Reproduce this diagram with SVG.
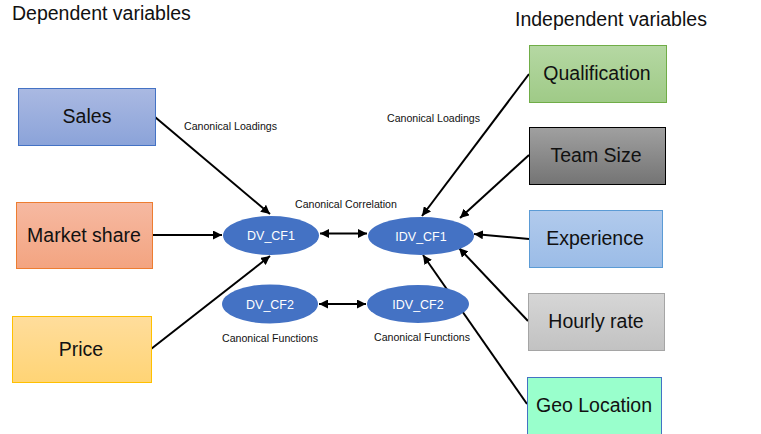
<svg xmlns="http://www.w3.org/2000/svg" width="761" height="434" viewBox="0 0 761 434">
<defs>
<linearGradient id="gSales" x1="0" y1="0" x2="0" y2="1"><stop offset="0" stop-color="#aab9e2"/><stop offset="1" stop-color="#8ba3d9"/></linearGradient>
<linearGradient id="gMkt" x1="0" y1="0" x2="0" y2="1"><stop offset="0" stop-color="#f6b9a2"/><stop offset="1" stop-color="#f3a480"/></linearGradient>
<linearGradient id="gPrice" x1="0" y1="0" x2="0" y2="1"><stop offset="0" stop-color="#ffdd9c"/><stop offset="1" stop-color="#ffd475"/></linearGradient>
<linearGradient id="gQual" x1="0" y1="0" x2="0" y2="1"><stop offset="0" stop-color="#b5d8a3"/><stop offset="1" stop-color="#9fca87"/></linearGradient>
<linearGradient id="gTeam" x1="0" y1="0" x2="0" y2="1"><stop offset="0" stop-color="#a0a0a0"/><stop offset="1" stop-color="#747474"/></linearGradient>
<linearGradient id="gExp" x1="0" y1="0" x2="0" y2="1"><stop offset="0" stop-color="#b1caec"/><stop offset="1" stop-color="#9bbce7"/></linearGradient>
<linearGradient id="gHour" x1="0" y1="0" x2="0" y2="1"><stop offset="0" stop-color="#d6d6d6"/><stop offset="1" stop-color="#c2c2c2"/></linearGradient>
<marker id="ah" viewBox="0 0 10 10" refX="10" refY="5" markerWidth="4.5" markerHeight="4.5" orient="auto-start-reverse" markerUnits="strokeWidth"><path d="M0,0 L10,5 L0,10 z" fill="#000"/></marker>
</defs>
<style>
.box text{font-family:"Liberation Sans",Arial,sans-serif;font-size:19.5px;fill:#111;text-anchor:middle}
.ell ellipse{fill:#4472c4}
.ell text{font-family:"Liberation Sans",Arial,sans-serif;font-size:12.5px;fill:#fff;text-anchor:middle}
.lbl{font-family:"Liberation Sans",Arial,sans-serif;font-size:10.6px;fill:#111}
.hdr{font-family:"Liberation Sans",Arial,sans-serif;font-size:19.5px;fill:#111}
#connectors line{stroke:#000;stroke-width:2;fill:none}
</style>
<rect width="761" height="434" fill="#fff"/>
<text class="hdr" x="12" y="20">Dependent variables</text>
<text class="hdr" x="515" y="26">Independent variables</text>
<text class="lbl" x="184" y="130">Canonical Loadings</text>
<text class="lbl" x="387" y="122">Canonical Loadings</text>
<text class="lbl" x="295" y="208">Canonical Correlation</text>
<text class="lbl" x="222" y="342">Canonical Functions</text>
<text class="lbl" x="374" y="341">Canonical Functions</text>
<g id="connectors">
<line x1="155" y1="117" x2="270" y2="214" marker-end="url(#ah)"/>
<line x1="152" y1="235" x2="222" y2="235" marker-end="url(#ah)"/>
<line x1="151" y1="349" x2="270" y2="256" marker-end="url(#ah)"/>
<line x1="320" y1="233.5" x2="367" y2="233.5" marker-start="url(#ah)" marker-end="url(#ah)"/>
<line x1="319" y1="304" x2="366" y2="304" marker-start="url(#ah)" marker-end="url(#ah)"/>
<line x1="529" y1="74" x2="422" y2="216" marker-end="url(#ah)"/>
<line x1="529" y1="155" x2="460" y2="218" marker-end="url(#ah)"/>
<line x1="529" y1="239" x2="474" y2="234" marker-end="url(#ah)"/>
<line x1="528" y1="321" x2="459" y2="248" marker-end="url(#ah)"/>
<line x1="527" y1="404" x2="423" y2="255" marker-end="url(#ah)"/>
</g>
<g id="sales" class="box"><rect x="18.5" y="88.5" width="137" height="57" fill="url(#gSales)" stroke="#4472c4"/><text x="87" y="123">Sales</text></g>
<g id="market-share" class="box"><rect x="16.5" y="202.5" width="136" height="66" fill="url(#gMkt)" stroke="#ed7d31"/><text x="84" y="242">Market share</text></g>
<g id="price" class="box"><rect x="12.5" y="316.5" width="139" height="66" fill="url(#gPrice)" stroke="#ffc000"/><text x="81" y="356">Price</text></g>
<g id="qualification" class="box"><rect x="529.5" y="45.5" width="137" height="57" fill="url(#gQual)" stroke="#70ad47"/><text x="597" y="80">Qualification</text></g>
<g id="team-size" class="box"><rect x="529.5" y="127.5" width="136" height="57" fill="url(#gTeam)" stroke="#000"/><text x="596" y="162">Team Size</text></g>
<g id="experience" class="box"><rect x="529.5" y="210.5" width="133" height="57" fill="url(#gExp)" stroke="#5b9bd5"/><text x="595" y="245">Experience</text></g>
<g id="hourly-rate" class="box"><rect x="528.5" y="293.5" width="136" height="57" fill="url(#gHour)" stroke="#a5a5a5"/><text x="596" y="328">Hourly rate</text></g>
<g id="geo-location" class="box"><rect x="527.5" y="377.5" width="134" height="60" fill="#99ffcc" stroke="#4472c4"/><text x="594" y="412">Geo Location</text></g>
<g id="dv-cf1" class="ell"><ellipse cx="271" cy="235.5" rx="48" ry="19.5"/><text x="271" y="240">DV_CF1</text></g>
<g id="dv-cf2" class="ell"><ellipse cx="270" cy="304" rx="48" ry="19.5"/><text x="270" y="308.5">DV_CF2</text></g>
<g id="idv-cf1" class="ell"><ellipse cx="421" cy="236" rx="53" ry="19"/><text x="421" y="240.5">IDV_CF1</text></g>
<g id="idv-cf2" class="ell"><ellipse cx="418" cy="304" rx="51" ry="19"/><text x="418" y="308.5">IDV_CF2</text></g>
</svg>
